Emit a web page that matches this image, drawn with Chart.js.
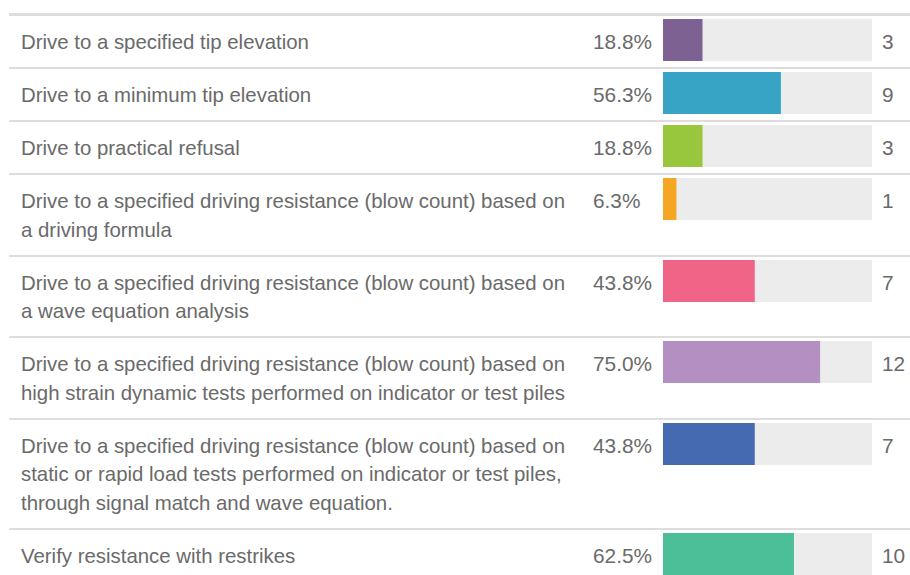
<!DOCTYPE html>
<html>
<head>
<meta charset="utf-8">
<script src="https://cdn.jsdelivr.net/npm/chart.js@4.4.0/dist/chart.umd.min.js"></script>
<style>
  html, body { margin: 0; background: #fff; overflow: hidden; font-family: "Liberation Sans", Arial, sans-serif; }
  #page { position: relative; width: 910px; height: 575px; overflow: hidden; }
  #table { position: absolute; left: 9px; top: 13px; width: 895px; }
  .row { position: relative; border-top: 2px solid #dddddd; padding: 12px 0 10.5px 0; margin-right: -6px; }
  .row.first { border-top-width: 3px; }
  .label { margin-left: 12px; width: 570px; font-size: 20.4px; line-height: 28.5px; color: #6a6a6a; white-space: pre-line; }
  .pct { position: absolute; left: 584px; top: 12px; font-size: 20.8px; line-height: 28.5px; color: #6a6a6a; }
  .cnt { position: absolute; left: 873px; top: 12px; font-size: 20.8px; line-height: 28.5px; color: #6a6a6a; }
  .bar { position: absolute; left: 654px; top: 3px; width: 209px; height: 42px; }
</style>
</head>
<body>
<div id="page"><div id="table"></div></div>
<script>
var categories = [
  "Drive to a specified tip elevation",
  "Drive to a minimum tip elevation",
  "Drive to practical refusal",
  "Drive to a specified driving resistance (blow count) based on\na driving formula",
  "Drive to a specified driving resistance (blow count) based on\na wave equation analysis",
  "Drive to a specified driving resistance (blow count) based on\nhigh strain dynamic tests performed on indicator or test piles",
  "Drive to a specified driving resistance (blow count) based on\nstatic or rapid load tests performed on indicator or test piles,\nthrough signal match and wave equation.",
  "Verify resistance with restrikes"
];
var counts = [3, 9, 3, 1, 7, 12, 7, 10];
var percents = ["18.8%", "56.3%", "18.8%", "6.3%", "43.8%", "75.0%", "43.8%", "62.5%"];
var totalResponses = 16;
var colors = ["#7e6193", "#37a3c5", "#98c73e", "#f5a623", "#ef6487", "#b48fc2", "#456ab2", "#4cbf98"];
var trackColor = "#ececec";

var table = document.getElementById("table");

for (var i = 0; i < categories.length; i++) {
  var row = document.createElement("div");
  row.className = i == 0 ? "row first" : "row";

  var label = document.createElement("div");
  label.className = "label";
  label.textContent = categories[i];
  row.appendChild(label);

  var pct = document.createElement("div");
  pct.className = "pct";
  pct.textContent = percents[i];
  row.appendChild(pct);

  var holder = document.createElement("div");
  holder.className = "bar";
  var canvas = document.createElement("canvas");
  canvas.width = 209;
  canvas.height = 42;
  holder.appendChild(canvas);
  row.appendChild(holder);

  var cnt = document.createElement("div");
  cnt.className = "cnt";
  cnt.textContent = counts[i];
  row.appendChild(cnt);

  table.appendChild(row);

  new Chart(canvas, {
    type: 'bar',
    data: {
      labels: [categories[i]],
      datasets: [
        {
          data: [counts[i]],
          backgroundColor: colors[i],
          grouped: false,
          barPercentage: 1,
          categoryPercentage: 1
        },
        {
          data: [totalResponses],
          backgroundColor: trackColor,
          grouped: false,
          barPercentage: 1,
          categoryPercentage: 1
        }
      ]
    },
    options: {
      indexAxis: 'y',
      responsive: false,
      animation: false,
      layout: { padding: 0 },
      scales: {
        x: { display: false, min: 0, max: totalResponses },
        y: { display: false }
      },
      plugins: {
        legend: { display: false },
        tooltip: { enabled: false }
      }
    }
  });
}
</script>
</body>
</html>
